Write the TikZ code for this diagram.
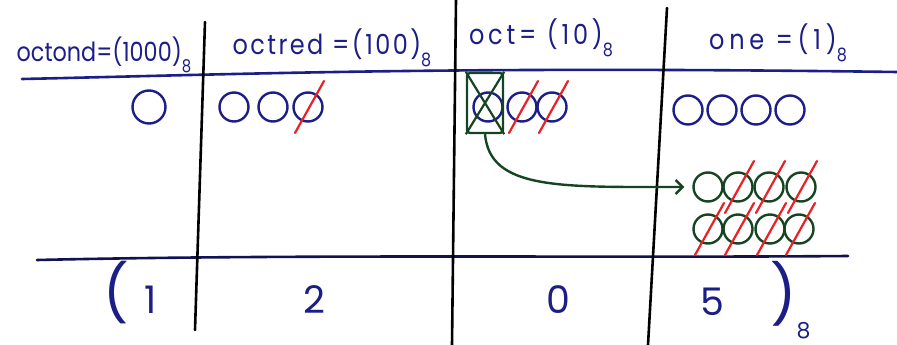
\documentclass[tikz,border=0pt]{standalone}
\usepackage{fontspec}
\setmainfont{Poppins}
\usetikzlibrary{arrows.meta}
\definecolor{ink}{RGB}{28,30,135}
\definecolor{pen}{RGB}{22,68,34}
\definecolor{slashred}{RGB}{236,32,36}
\newcommand\subeight[1][16]{\raisebox{-.4em}{\fontsize{#1}{#1}\selectfont 8}}
\newcommand\spread[2]{\scalebox{1}[1.15]{\addfontfeature{LetterSpace=#1}#2}}

\begin{document}
\begin{tikzpicture}[x=1pt,y=-1pt,
	bead/.style={circle,draw=ink,line width=2.4pt,minimum size=29pt,inner sep=0pt},
	gbead/.style={bead,draw=pen},
	head/.style={text=ink,font=\fontsize{24}{26}\selectfont,anchor=base,inner sep=0pt},
	digit/.style={text=ink,font=\fontsize{38}{40}\selectfont,anchor=base,inner sep=0pt},
	rule/.style={line width=2.6pt,line cap=round},
	cross/.style={slashred,line width=2.2pt,line cap=round}]
	\useasboundingbox (0,0) rectangle (897,345);
	\draw[rule,ink] (22,79) .. controls (250,74) and (450,66) .. (897,72);
	\draw[rule,ink!60!black] (37,260) .. controls (300,254) and (600,258) .. (848,256);
	\draw[rule,black] (205,22) -- (195,330);
	\draw[rule,black] (456,0) -- (452,345);
	\draw[rule,black] (667,8) -- (648,345);

	\node[head] (hthousand) at (104,62) {\scalebox{0.93}[1.1]{octond=(1000)\subeight}};
	\node[head] (hhundred) at (332,55) {\spread{10}{octred =(100)\subeight}};
	\node[head] (hten) at (541,45) {\spread{16}{oct= (10)\subeight}};
	\node[head] (hone) at (778,50) {\spread{20}{one =(1)\subeight}};

	\node[bead,minimum size=33pt] (k1) at (149,107) {};
	\foreach \n/\x in {1/234,2/273,3/308} \node[bead] (h\n) at (\x,107) {};
	\foreach \n/\x in {1/488,2/522,3/552} \node[bead] (e\n) at (\x,107) {};
	\foreach \n/\x in {1/688,2/722,3/756,4/790} \node[bead] (u\n) at (\x,110) {};
	\foreach \n/\x/\y in {1/708/187,2/738/187,3/769/187,4/801/187,5/708/229,6/738/229,7/770/229,8/799/229}
		\node[gbead] (c\n) at (\x,\y) {};

	\node[draw=pen,line width=2.4pt,rounded corners=3pt,minimum width=36pt,minimum height=60pt] (carry) at (485,103) {};
	\draw[pen,line width=2.2pt] (carry.north west) -- (carry.south east) (carry.north east) -- (carry.south west);

	\foreach \b in {h3,e2,e3,c2,c3,c4,c5,c6,c7,c8}
		\draw[cross] ([shift={(-13,26)}]\b.center) -- ([shift={(16,-26)}]\b.center);

	\draw[pen,line width=2.4pt,-{Straight Barb[length=7pt,width=14pt]},shorten >=8pt] (carry.south) .. controls (490,190) and (560,187) .. (c1.west);

	\node[digit] (dthousand) at (130,313) {\fontsize{56}{56}\selectfont(\hspace{16pt}\fontsize{38}{40}\selectfont1};
	\node[digit] (dhundred) at (314,313) {2};
	\node[digit] (dten) at (558,313) {0};
	\node[digit] (done) at (712,315) {5};
	\node[digit,anchor=base west] (dbase) at (770,315) {\fontsize{58}{58}\selectfont)\subeight[22]};
\end{tikzpicture}
\end{document}
